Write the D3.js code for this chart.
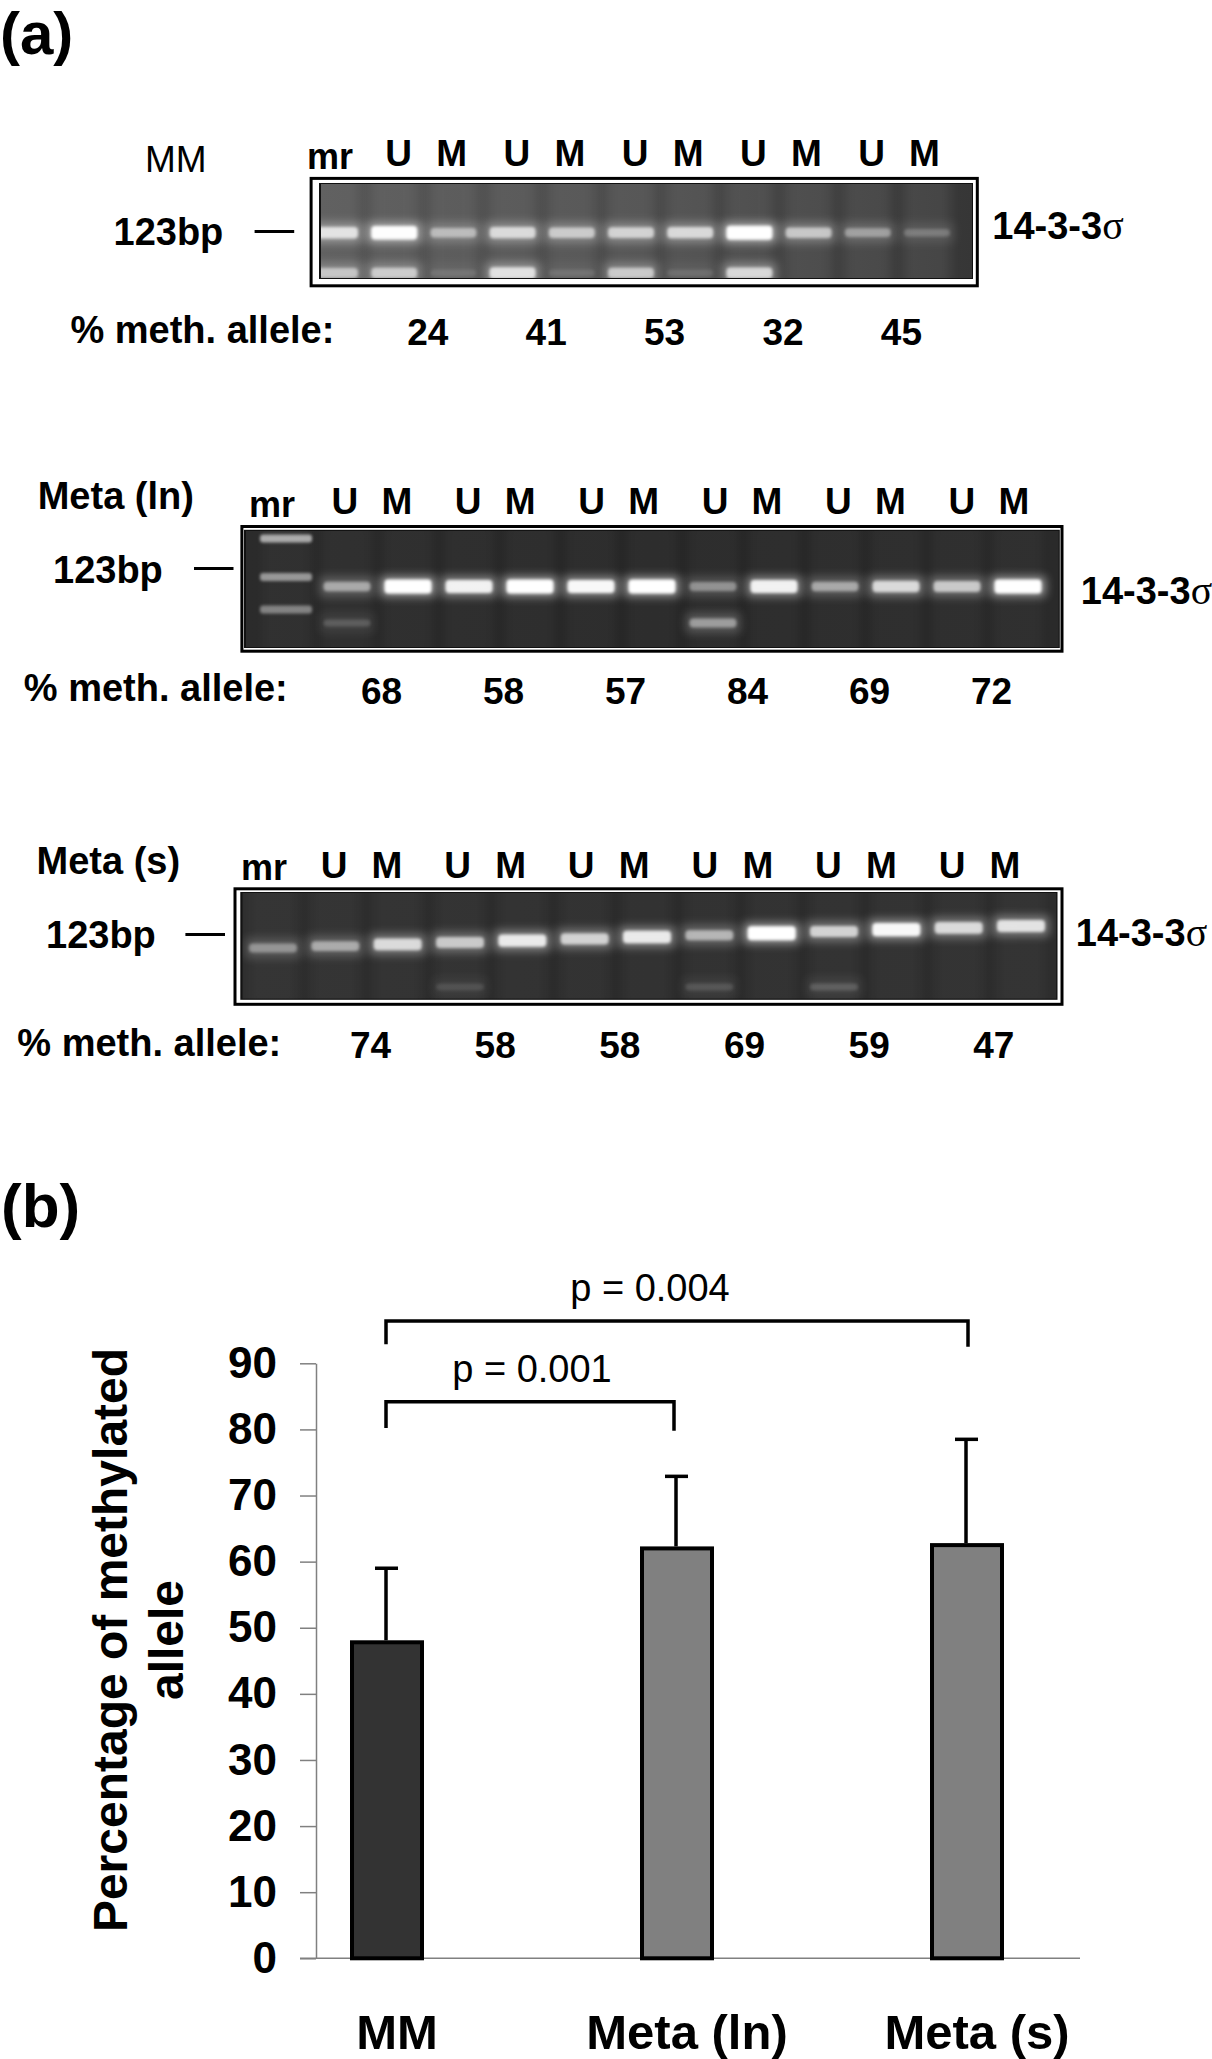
<!DOCTYPE html>
<html>
<head>
<meta charset="utf-8">
<script src="https://cdn.jsdelivr.net/npm/d3@7"></script>
<style>
  body { margin: 0; background: #fff; }
  svg { display: block; }
  text { font-family: "Liberation Sans", Arial, sans-serif; fill: #000; }
</style>
</head>
<body>
<svg id="fig" width="1212" height="2059"></svg>
<script>
// ---- panel (a): band strength per lane (mr, U, M, U, M ...)
const mmMain = [0.7, 0.95, 0.45, 0.65, 0.55, 0.6, 0.65, 1.0, 0.55, 0.35, 0.2];
const mmLow = [0.5, 0.55, 0.1, 0.7, 0.1, 0.55, 0.1, 0.65, 0, 0, 0];
const mmMeth = [24, 41, 53, 32, 45];

const lnMain = [0, 0.45, 1.0, 0.85, 1.0, 0.9, 1.0, 0.35, 0.85, 0.45, 0.7, 0.6, 1.0];
const lnLadder = [0.6, 0.5, 0.4];
const lnLow = [0, 0.15, 0, 0, 0, 0, 0, 0.4, 0, 0, 0, 0, 0];
const lnMeth = [68, 58, 57, 84, 69, 72];

const sMain = [0.35, 0.45, 0.7, 0.6, 0.8, 0.65, 0.8, 0.5, 1.0, 0.65, 0.9, 0.7, 0.75];
const sLow = [0, 0, 0, 0.1, 0, 0, 0, 0.12, 0, 0.15, 0, 0, 0];
const sMeth = [74, 58, 58, 69, 59, 47];

// ---- panel (b)
const groups = ['MM', 'Meta (ln)', 'Meta (s)'];
const means = [47.8, 62.0, 62.5];
const sds = [11.2, 10.9, 16.0];
const yTicks = [0, 10, 20, 30, 40, 50, 60, 70, 80, 90];
const tests = [
    { from: 'MM', to: 'Meta (s)', top: 96.4, legs: [92.9, 92.5], label: 'p = 0.004' },
    { from: 'MM', to: 'Meta (ln)', top: 84.2, legs: [80.2, 79.8], label: 'p = 0.001' }
];

const svg = d3.select('#fig');
const defs = svg.append('defs');

defs.append('filter').attr('id', 'glow')
    .attr('x', '-50%').attr('y', '-100%').attr('width', '200%').attr('height', '300%')
    .append('feGaussianBlur').attr('stdDeviation', 5);
defs.append('filter').attr('id', 'core')
    .attr('x', '-20%').attr('y', '-60%').attr('width', '140%').attr('height', '220%')
    .append('feGaussianBlur').attr('stdDeviation', 1.6);
defs.append('filter').attr('id', 'lane')
    .attr('x', '-50%').attr('y', '-10%').attr('width', '200%').attr('height', '120%')
    .append('feGaussianBlur').attr('stdDeviation', 6);

// gel layouts
const panels = [
    {
        title: 'MM', titleX: 145, titleY: 172, titleWeight: 'normal', titleSize: 37,
        outer: [309.6, 176.9, 978.8, 287.3], gel: [321, 184, 972, 278],
        shade: ['#555555', '#4a4a4a', '#363636'], laneGlow: 0.07,
        lanes: [335, 927], main: mmMain, bandY: [232.7, 232.7], low: mmLow, lowY: 273,
        bandW: 46, mrX: 330, mrY: 168.5, labelY: 166.2, uX: 398.7, uStep: 118.2, mOff: 53,
        bpX: 113.5, bpY: 245.4, dash: [254.6, 294.2, 231.5], markX: 992.3, markY: 238.5,
        methX: 70.4, methY: 343, valY: 345, meth: mmMeth
    },
    {
        title: 'Meta (ln)', titleX: 37.7, titleY: 508.5, titleWeight: 'bold', titleSize: 38,
        outer: [240.4, 525, 1063.5, 652.7], gel: [246, 530.8, 1058.8, 647],
        shade: ['#2b2b2b', '#272727', '#2a2a2a'], laneGlow: 0.03,
        lanes: [286, 1018], main: lnMain, bandY: [586.5, 586.5], low: lnLow, lowY: 623,
        ladder: lnLadder, ladderY: [538.5, 577, 609.6],
        bandW: 47, mrX: 272, mrY: 517.3, labelY: 514, uX: 344.8, uStep: 123.4, mOff: 52,
        bpX: 53, bpY: 582.7, dash: [194, 233.5, 568.5], markX: 1080.8, markY: 603.8,
        methX: 23.8, methY: 700.8, valY: 703.8, meth: lnMeth
    },
    {
        title: 'Meta (s)', titleX: 36.5, titleY: 873.8, titleWeight: 'bold', titleSize: 38,
        outer: [233.5, 887.3, 1063.5, 1005.8], gel: [242.3, 893, 1056.5, 998.8],
        shade: ['#2e2e2e', '#2b2b2b', '#2d2d2d'], laneGlow: 0.035,
        lanes: [273, 1021], main: sMain, bandY: [948, 926], low: sLow, lowY: 987,
        bandW: 48, mrX: 264, mrY: 879.6, labelY: 878, uX: 334, uStep: 123.6, mOff: 53,
        bpX: 46, bpY: 948, dash: [185.4, 225, 934.6], markX: 1075.8, markY: 946,
        methX: 17.3, methY: 1055.8, valY: 1057.7, meth: sMeth
    }
];

function drawGel(p, idx) {
    const g = svg.append('g').attr('class', 'gel-panel');
    const [ox0, oy0, ox1, oy1] = p.outer;
    const [gx0, gy0, gx1, gy1] = p.gel;

    // frame: black, white gap, black edge, gel
    g.append('rect').attr('x', ox0).attr('y', oy0)
        .attr('width', ox1 - ox0).attr('height', oy1 - oy0).attr('fill', '#000');
    g.append('rect').attr('x', ox0 + 3).attr('y', oy0 + 3)
        .attr('width', ox1 - ox0 - 6).attr('height', oy1 - oy0 - 6).attr('fill', '#fff');
    g.append('rect').attr('x', gx0 - 2).attr('y', gy0 - 1)
        .attr('width', gx1 - gx0 + 3).attr('height', gy1 - gy0 + 2).attr('fill', '#111');

    const grad = defs.append('linearGradient').attr('id', `gelShade${idx}`);
    grad.selectAll('stop').data(p.shade).join('stop')
        .attr('offset', (d, i) => `${i * 50}%`).attr('stop-color', d => d);

    defs.append('clipPath').attr('id', `gelClip${idx}`)
        .append('rect').attr('x', gx0).attr('y', gy0)
        .attr('width', gx1 - gx0).attr('height', gy1 - gy0);

    const inner = g.append('g').attr('clip-path', `url(#gelClip${idx})`);
    inner.append('rect').attr('x', gx0).attr('y', gy0)
        .attr('width', gx1 - gx0).attr('height', gy1 - gy0)
        .attr('fill', `url(#gelShade${idx})`);

    const n = p.main.length;
    const lane = d3.scaleLinear().domain([0, n - 1]).range(p.lanes);
    const bandY = d3.scaleLinear().domain([0, n - 1]).range(p.bandY);
    const idxs = d3.range(n);

    // faint lane tracks
    inner.selectAll('.track').data(idxs).join('rect')
        .attr('class', 'track')
        .attr('x', i => lane(i) - p.bandW / 2)
        .attr('y', gy0 - 10)
        .attr('width', p.bandW)
        .attr('height', gy1 - gy0 + 20)
        .attr('fill', '#fff')
        .attr('opacity', p.laneGlow)
        .attr('filter', 'url(#lane)');

    function bands(values, yOf, cls) {
        const rows = idxs.map(i => ({ i, v: values[i] })).filter(d => d.v > 0);
        inner.selectAll(`.${cls}-glow`).data(rows).join('rect')
            .attr('class', `${cls}-glow`)
            .attr('x', d => lane(d.i) - p.bandW / 2 - 4)
            .attr('y', d => yOf(d.i) - 10)
            .attr('width', p.bandW + 8)
            .attr('height', 20)
            .attr('fill', '#fff')
            .attr('opacity', d => d.v * 0.5)
            .attr('filter', 'url(#glow)');
        inner.selectAll(`.${cls}`).data(rows).join('rect')
            .attr('class', cls)
            .attr('x', d => lane(d.i) - p.bandW / 2)
            .attr('y', d => yOf(d.i) - (3 + 4 * d.v))
            .attr('width', p.bandW)
            .attr('height', d => 6 + 8 * d.v)
            .attr('rx', 4)
            .attr('fill', '#fff')
            .attr('opacity', d => Math.min(1, d.v * 1.05))
            .attr('filter', 'url(#core)');
    }

    bands(p.main, i => bandY(i), 'band');
    bands(p.low, () => p.lowY, 'low');

    if (p.ladder) {
        const rungs = p.ladder.map((v, k) => ({ v, y: p.ladderY[k] }));
        inner.selectAll('.rung').data(rungs).join('rect')
            .attr('class', 'rung')
            .attr('x', lane(0) - 26).attr('y', d => d.y - 4)
            .attr('width', 52).attr('height', 8).attr('rx', 3)
            .attr('fill', '#fff').attr('opacity', d => d.v)
            .attr('filter', 'url(#core)');
    }

    // labels
    g.append('text').attr('x', p.titleX).attr('y', p.titleY)
        .attr('font-size', p.titleSize).attr('font-weight', p.titleWeight)
        .text(p.title);

    g.append('text').attr('x', p.mrX).attr('y', p.mrY)
        .attr('text-anchor', 'middle').attr('font-size', 36).attr('font-weight', 'bold')
        .text('mr');

    const nPairs = (n - 1) / 2;
    const pairLabels = d3.range(nPairs).flatMap(k => [
        { t: 'U', x: p.uX + k * p.uStep },
        { t: 'M', x: p.uX + k * p.uStep + p.mOff }
    ]);
    g.selectAll('.lane-label').data(pairLabels).join('text')
        .attr('class', 'lane-label')
        .attr('x', d => d.x).attr('y', p.labelY)
        .attr('text-anchor', 'middle').attr('font-size', 37).attr('font-weight', 'bold')
        .text(d => d.t);

    g.append('text').attr('x', p.bpX).attr('y', p.bpY)
        .attr('font-size', 38).attr('font-weight', 'bold')
        .text('123bp');
    g.append('line')
        .attr('x1', p.dash[0]).attr('x2', p.dash[1])
        .attr('y1', p.dash[2]).attr('y2', p.dash[2])
        .attr('stroke', '#000').attr('stroke-width', 3);

    const mark = g.append('text').attr('x', p.markX).attr('y', p.markY)
        .attr('font-size', 38).attr('font-weight', 'bold');
    mark.append('tspan').text('14-3-3');
    mark.append('tspan')
        .style('font-family', '"Liberation Serif", "DejaVu Serif", serif')
        .attr('font-weight', 'normal').attr('font-size', 40)
        .text('σ');

    g.append('text').attr('x', p.methX).attr('y', p.methY)
        .attr('font-size', 38).attr('font-weight', 'bold')
        .text('% meth. allele:');

    g.selectAll('.meth').data(p.meth).join('text')
        .attr('class', 'meth')
        .attr('x', (d, k) => (lane(2 * k + 1) + lane(2 * k + 2)) / 2 + 4)
        .attr('y', p.valY)
        .attr('text-anchor', 'middle').attr('font-size', 37).attr('font-weight', 'bold')
        .text(d => d);
}

panels.forEach(drawGel);

svg.append('text').attr('x', 0).attr('y', 54)
    .attr('font-size', 60).attr('font-weight', 'bold').text('(a)');
svg.append('text').attr('x', 1).attr('y', 1227)
    .attr('font-size', 62).attr('font-weight', 'bold').text('(b)');

// ---- bar chart
const y = d3.scaleLinear().domain([0, 90]).range([1958.3, 1363.3]);
const x = d3.scalePoint().domain(groups).range([387, 967]);
const barW = 70;

const yAxis = d3.axisLeft(y)
    .tickValues(yTicks)
    .tickSize(16)
    .tickSizeOuter(0)
    .tickPadding(23);

svg.append('g')
    .attr('transform', 'translate(316,0)')
    .call(yAxis)
    .call(g => g.attr('font-family', '"Liberation Sans", Arial, sans-serif').attr('font-size', 44))
    .call(g => g.select('.domain').attr('stroke', '#808080').attr('stroke-width', 1.5))
    .call(g => g.selectAll('.tick line').attr('stroke', '#808080').attr('stroke-width', 1.5))
    .call(g => g.selectAll('.tick text').attr('font-weight', 'bold').attr('fill', '#000'));

svg.append('line')
    .attr('x1', 300).attr('x2', 1080)
    .attr('y1', y(0)).attr('y2', y(0))
    .attr('stroke', '#808080').attr('stroke-width', 1.5);

const rows = groups.map((name, i) => ({ name, mean: means[i], sd: sds[i] }));

svg.selectAll('.bar').data(rows).join('rect')
    .attr('class', 'bar')
    .attr('x', d => x(d.name) - barW / 2)
    .attr('y', d => y(d.mean))
    .attr('width', barW)
    .attr('height', d => y(0) - y(d.mean))
    .attr('fill', (d, i) => i === 0 ? '#333333' : '#808080')
    .attr('stroke', '#000')
    .attr('stroke-width', 4);

// error bars (upper only)
svg.selectAll('.err').data(rows).join('line')
    .attr('class', 'err')
    .attr('x1', d => x(d.name) - 1).attr('x2', d => x(d.name) - 1)
    .attr('y1', d => y(d.mean) - 2).attr('y2', d => y(d.mean + d.sd))
    .attr('stroke', '#000').attr('stroke-width', 3.5);
svg.selectAll('.cap').data(rows).join('line')
    .attr('class', 'cap')
    .attr('x1', d => x(d.name) - 12).attr('x2', d => x(d.name) + 11)
    .attr('y1', d => y(d.mean + d.sd)).attr('y2', d => y(d.mean + d.sd))
    .attr('stroke', '#000').attr('stroke-width', 3.5);

// significance brackets
const labelShift = [-27, 0];
svg.selectAll('.bracket').data(tests).join('path')
    .attr('class', 'bracket')
    .attr('d', d => `M${x(d.from) - 1},${y(d.legs[0])}V${y(d.top)}H${x(d.to) + (d.to === 'Meta (s)' ? 1 : -3)}V${y(d.legs[1])}`)
    .attr('fill', 'none')
    .attr('stroke', '#000')
    .attr('stroke-width', 3.5);
svg.selectAll('.ptext').data(tests).join('text')
    .attr('class', 'ptext')
    .attr('x', (d, i) => (x(d.from) + x(d.to)) / 2 + labelShift[i])
    .attr('y', d => y(d.top) - 20)
    .attr('text-anchor', 'middle')
    .attr('font-size', 38)
    .text(d => d.label);

svg.selectAll('.cat').data(groups).join('text')
    .attr('class', 'cat')
    .attr('x', d => x(d) + 10)
    .attr('y', 2049)
    .attr('text-anchor', 'middle')
    .attr('font-size', 49)
    .attr('font-weight', 'bold')
    .text(d => d);

// y title, two lines
const yTitle = ['Percentage of methylated', 'allele'];
svg.selectAll('.ytitle').data(yTitle).join('text')
    .attr('class', 'ytitle')
    .attr('transform', (d, i) => `translate(${127 + i * 56},1640) rotate(-90)`)
    .attr('text-anchor', 'middle')
    .attr('font-size', 48)
    .attr('font-weight', 'bold')
    .text(d => d);
</script>
</body>
</html>
